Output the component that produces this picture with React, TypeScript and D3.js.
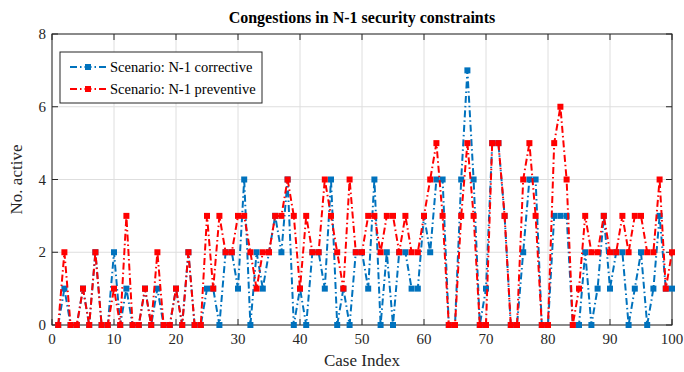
import React, { useEffect, useRef } from "react";
import * as d3 from "d3";

const caseIndex: number[] = d3.range(1, 101);

const correctiveValues: number[] = [
  0, 1, 0, 0, 1, 0, 2, 0, 0, 2,
  0, 1, 0, 0, 1, 0, 1, 0, 0, 1,
  0, 2, 0, 0, 1, 1, 0, 2, 2, 1,
  4, 0, 2, 1, 2, 3, 2, 4, 0, 1,
  0, 2, 2, 1, 4, 0, 1, 0, 2, 2,
  1, 4, 0, 2, 0, 2, 2, 1, 1, 3,
  2, 4, 4, 0, 0, 4, 7, 4, 0, 1,
  5, 5, 3, 0, 0, 2, 4, 4, 0, 0,
  3, 3, 3, 0, 0, 2, 0, 1, 3, 1,
  2, 2, 0, 1, 2, 0, 1, 3, 1, 1,
];

const preventiveValues: number[] = [
  0, 2, 0, 0, 1, 0, 2, 0, 0, 1,
  0, 3, 0, 0, 1, 0, 2, 0, 0, 1,
  0, 2, 0, 0, 3, 1, 3, 2, 2, 3,
  3, 2, 1, 2, 2, 3, 3, 4, 3, 1,
  3, 2, 2, 4, 3, 2, 1, 4, 2, 2,
  3, 3, 2, 3, 3, 2, 3, 2, 2, 3,
  4, 5, 3, 0, 0, 3, 5, 3, 0, 0,
  5, 5, 3, 0, 0, 4, 5, 3, 0, 0,
  5, 6, 4, 0, 1, 3, 2, 2, 3, 2,
  2, 3, 2, 3, 3, 2, 2, 4, 1, 2,
];

const xTicks: number[] = [0, 10, 20, 30, 40, 50, 60, 70, 80, 90, 100];
const yTicks: number[] = [0, 2, 4, 6, 8];

const seriesNames: string[] = ["Scenario: N-1 corrective", "Scenario: N-1 preventive"];
const seriesColors: string[] = ["#0072BD", "#FF0000"];

const W = 684;
const H = 372;
const M = { left: 52, right: 12, top: 34, bottom: 47 };
const FONT = "'Liberation Serif', 'DejaVu Serif', serif";

export default function App() {
  const ref = useRef<SVGSVGElement | null>(null);

  useEffect(() => {
    const svg = d3.select(ref.current);
    svg.selectAll("*").remove();

    const x = d3.scaleLinear().domain([0, 100]).range([M.left, W - M.right]);
    const y = d3.scaleLinear().domain([0, 8]).range([H - M.bottom, M.top]);
    const [x0, x1] = x.range();
    const [y0, y1] = y.range();

    svg.append("rect").attr("x", 0).attr("y", 0).attr("width", W).attr("height", H).attr("fill", "#fff");

    // grid
    const grid = svg.append("g").attr("stroke", "#dedede").attr("stroke-width", 1);
    xTicks.forEach((t) => {
      grid.append("line").attr("x1", x(t)).attr("x2", x(t)).attr("y1", y0).attr("y2", y1);
    });
    yTicks.forEach((t) => {
      grid.append("line").attr("x1", x0).attr("x2", x1).attr("y1", y(t)).attr("y2", y(t));
    });

    // axes box with inward ticks on all sides
    const axis = svg.append("g").attr("stroke", "#262626").attr("stroke-width", 1).attr("fill", "none");
    axis.append("rect").attr("x", x0).attr("y", y1).attr("width", x1 - x0).attr("height", y0 - y1);
    const tl = 6;
    xTicks.forEach((t) => {
      axis.append("line").attr("x1", x(t)).attr("x2", x(t)).attr("y1", y0).attr("y2", y0 - tl);
      axis.append("line").attr("x1", x(t)).attr("x2", x(t)).attr("y1", y1).attr("y2", y1 + tl);
    });
    yTicks.forEach((t) => {
      axis.append("line").attr("x1", x0).attr("x2", x0 + tl).attr("y1", y(t)).attr("y2", y(t));
      axis.append("line").attr("x1", x1).attr("x2", x1 - tl).attr("y1", y(t)).attr("y2", y(t));
    });

    const labels = svg.append("g").attr("font-family", FONT).attr("fill", "#262626").attr("font-size", 15);
    xTicks.forEach((t) => {
      labels.append("text").attr("x", x(t)).attr("y", y0 + 19).attr("text-anchor", "middle").text(t);
    });
    yTicks.forEach((t) => {
      labels.append("text").attr("x", x0 - 6).attr("y", y(t) + 5).attr("text-anchor", "end").text(t);
    });

    svg.append("text")
      .attr("x", (x0 + x1) / 2).attr("y", H - 6)
      .attr("text-anchor", "middle").attr("font-family", FONT).attr("font-size", 17).attr("fill", "#262626")
      .text("Case Index");
    svg.append("text")
      .attr("transform", `translate(22,${(y0 + y1) / 2}) rotate(-90)`)
      .attr("text-anchor", "middle").attr("font-family", FONT).attr("font-size", 17).attr("fill", "#262626")
      .text("No. active");
    svg.append("text")
      .attr("x", (x0 + x1) / 2).attr("y", 23)
      .attr("text-anchor", "middle").attr("font-family", FONT).attr("font-size", 16)
      .attr("font-weight", "bold").attr("fill", "#000")
      .text("Congestions in N-1 security constraints");

    const series = [correctiveValues, preventiveValues];
    const line = d3.line<number>().x((_, i) => x(caseIndex[i])).y((d) => y(d));
    const ms = 6;
    const dash = "7,3,1.5,3";

    series.forEach((vals, si) => {
      const g = svg.append("g");
      g.append("path")
        .attr("d", line(vals) as string)
        .attr("fill", "none")
        .attr("stroke", seriesColors[si])
        .attr("stroke-width", 2)
        .attr("stroke-dasharray", dash);
      g.selectAll("rect")
        .data(vals)
        .join("rect")
        .attr("x", (_, i) => x(caseIndex[i]) - ms / 2)
        .attr("y", (d) => y(d) - ms / 2)
        .attr("width", ms)
        .attr("height", ms)
        .attr("fill", seriesColors[si]);
    });

    // legend
    const lg = svg.append("g");
    lg.append("rect")
      .attr("x", 60).attr("y", 52).attr("width", 202).attr("height", 51)
      .attr("fill", "#fff").attr("stroke", "#262626").attr("stroke-width", 1);
    seriesNames.forEach((name, si) => {
      const ly = 67 + si * 22;
      lg.append("line")
        .attr("x1", 70).attr("x2", 106).attr("y1", ly).attr("y2", ly)
        .attr("stroke", seriesColors[si]).attr("stroke-width", 2).attr("stroke-dasharray", dash);
      lg.append("rect")
        .attr("x", 88 - ms / 2).attr("y", ly - ms / 2).attr("width", ms).attr("height", ms)
        .attr("fill", seriesColors[si]);
      lg.append("text")
        .attr("x", 110).attr("y", ly + 5)
        .attr("font-family", FONT).attr("font-size", 14.5).attr("fill", "#000")
        .text(name);
    });
  }, []);

  return <svg ref={ref} width={W} height={H} style={{ display: "block", position: "absolute", left: 0, top: 0 }} />;
}
